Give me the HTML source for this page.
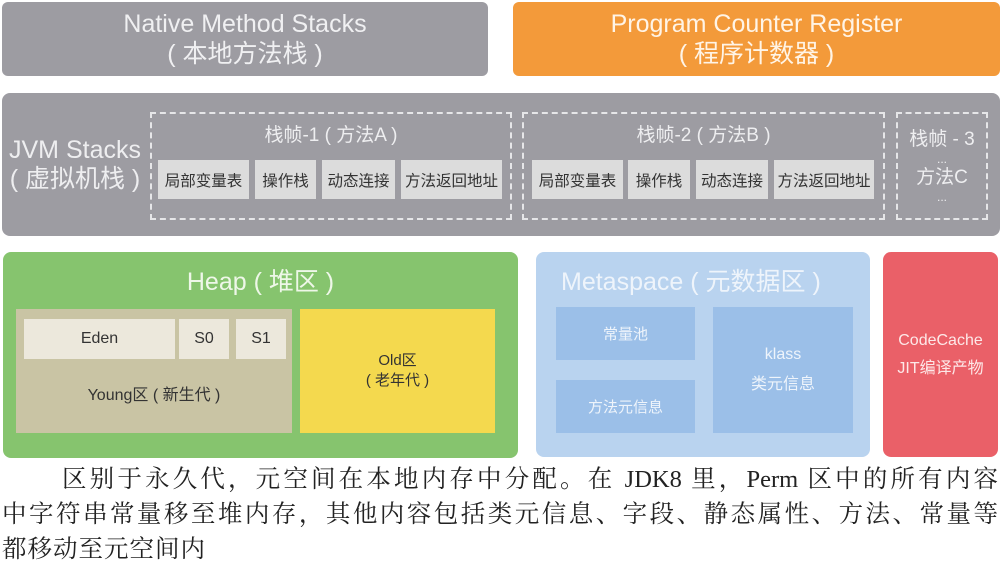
<!DOCTYPE html>
<html><head><meta charset="utf-8"><style>
*{margin:0;padding:0;box-sizing:border-box}
body{width:1002px;height:572px;background:#fff;position:relative;overflow:hidden;font-family:"Liberation Sans","Noto Sans CJK SC",sans-serif}
.a{position:absolute}
.c{display:flex;align-items:center;justify-content:center;text-align:center}
.cell{background:#dcdcdc;color:#333;font-size:15.5px}
.dash{border:2px dashed #e6e6e8}
.j{text-align:justify;text-align-last:justify;white-space:nowrap}
</style></head><body>
<div class="a c" style="left:2px;top:2px;width:486px;height:74px;background:#9d9ca2;border-radius:6px;color:#f0f0f2;font-size:25px;line-height:30px;flex-direction:column">Native Method Stacks<br>( 本地方法栈 )</div>
<div class="a c" style="left:513px;top:2px;width:487px;height:74px;background:#f39a3a;border-radius:6px;color:#fff4e6;font-size:25px;line-height:30px">Program Counter Register<br>( 程序计数器 )</div>

<div class="a" style="left:2px;top:93px;width:998px;height:143px;background:#9d9ca2;border-radius:8px"></div>
<div class="a c" style="left:0px;top:135px;width:150px;height:60px;color:#eeeef0;font-size:25px;line-height:29px">JVM Stacks<br>( 虚拟机栈 )</div>
<div class="a dash" style="left:150px;top:112px;width:362px;height:108px"></div>
<div class="a c" style="left:150px;top:120px;width:362px;height:26px;color:#eeeef0;font-size:19px">栈帧-1 ( 方法A )</div>
<div class="a c cell" style="left:158px;top:160px;width:91px;height:39px">局部变量表</div>
<div class="a c cell" style="left:255px;top:160px;width:61px;height:39px">操作栈</div>
<div class="a c cell" style="left:322px;top:160px;width:73px;height:39px">动态连接</div>
<div class="a c cell" style="left:401px;top:160px;width:101px;height:39px">方法返回地址</div>
<div class="a dash" style="left:522px;top:112px;width:363px;height:108px"></div>
<div class="a c" style="left:522px;top:120px;width:363px;height:26px;color:#eeeef0;font-size:19px">栈帧-2 ( 方法B )</div>
<div class="a c cell" style="left:532px;top:160px;width:91px;height:39px">局部变量表</div>
<div class="a c cell" style="left:628px;top:160px;width:62px;height:39px">操作栈</div>
<div class="a c cell" style="left:696px;top:160px;width:72px;height:39px">动态连接</div>
<div class="a c cell" style="left:774px;top:160px;width:100px;height:39px">方法返回地址</div>
<div class="a dash" style="left:896px;top:112px;width:92px;height:108px"></div>
<div class="a c" style="left:896px;top:120px;width:92px;height:92px;color:#eeeef0;font-size:19px;line-height:24px;flex-direction:column">栈帧 - 3<br><span style="font-size:12px;line-height:14px">...</span>方法C<br><span style="font-size:12px;line-height:14px">...</span></div>

<div class="a" style="left:3px;top:252px;width:515px;height:206px;background:#86c46e;border-radius:8px"></div>
<div class="a c" style="left:3px;top:262px;width:515px;height:36px;color:#eef7e8;font-size:25px">Heap ( 堆区 )</div>
<div class="a" style="left:16px;top:309px;width:276px;height:124px;background:#c9c4a4"></div>
<div class="a c" style="left:24px;top:319px;width:151px;height:40px;background:#ece8dc;color:#333;font-size:16px">Eden</div>
<div class="a c" style="left:179px;top:319px;width:50px;height:40px;background:#ece8dc;color:#333;font-size:16px">S0</div>
<div class="a c" style="left:236px;top:319px;width:50px;height:40px;background:#ece8dc;color:#333;font-size:16px">S1</div>
<div class="a c" style="left:16px;top:378px;width:276px;height:30px;color:#333;font-size:16px">Young区 ( 新生代 )</div>
<div class="a c" style="left:300px;top:309px;width:195px;height:124px;background:#f4d94e;color:#333;font-size:15px;line-height:20px">Old区<br>( 老年代 )</div>

<div class="a" style="left:536px;top:252px;width:334px;height:205px;background:#b9d3ef;border-radius:8px"></div>
<div class="a" style="left:561px;top:264px;width:300px;height:36px;color:#eef4fb;font-size:25px;line-height:36px">Metaspace ( 元数据区 )</div>
<div class="a c" style="left:556px;top:307px;width:139px;height:53px;background:#9bbfe8;color:#eef4fb;font-size:15px">常量池</div>
<div class="a c" style="left:556px;top:380px;width:139px;height:53px;background:#9bbfe8;color:#eef4fb;font-size:15px">方法元信息</div>
<div class="a c" style="left:713px;top:307px;width:140px;height:126px;background:#9bbfe8;color:#eef4fb;font-size:16px;line-height:30px">klass<br>类元信息</div>

<div class="a c" style="left:883px;top:252px;width:115px;height:205px;background:#ea6068;border-radius:8px;color:#fde8e8;font-size:16px;line-height:28px">CodeCache<br>JIT编译产物</div>

<div class="a" style="left:0;top:462px;width:1002px;font-family:'Liberation Serif','Noto Serif CJK SC',serif;font-size:24.5px;line-height:35px;color:#222">
<div class="j" style="margin-left:62px;width:936px">区别于永久代，元空间在本地内存中分配。在 JDK8 里，Perm 区中的所有内容</div>
<div class="j" style="margin-left:2px;width:996px">中字符串常量移至堆内存，其他内容包括类元信息、字段、静态属性、方法、常量等</div>
<div style="padding-left:2px;letter-spacing:1px">都移动至元空间内</div>
</div>
</body></html>
